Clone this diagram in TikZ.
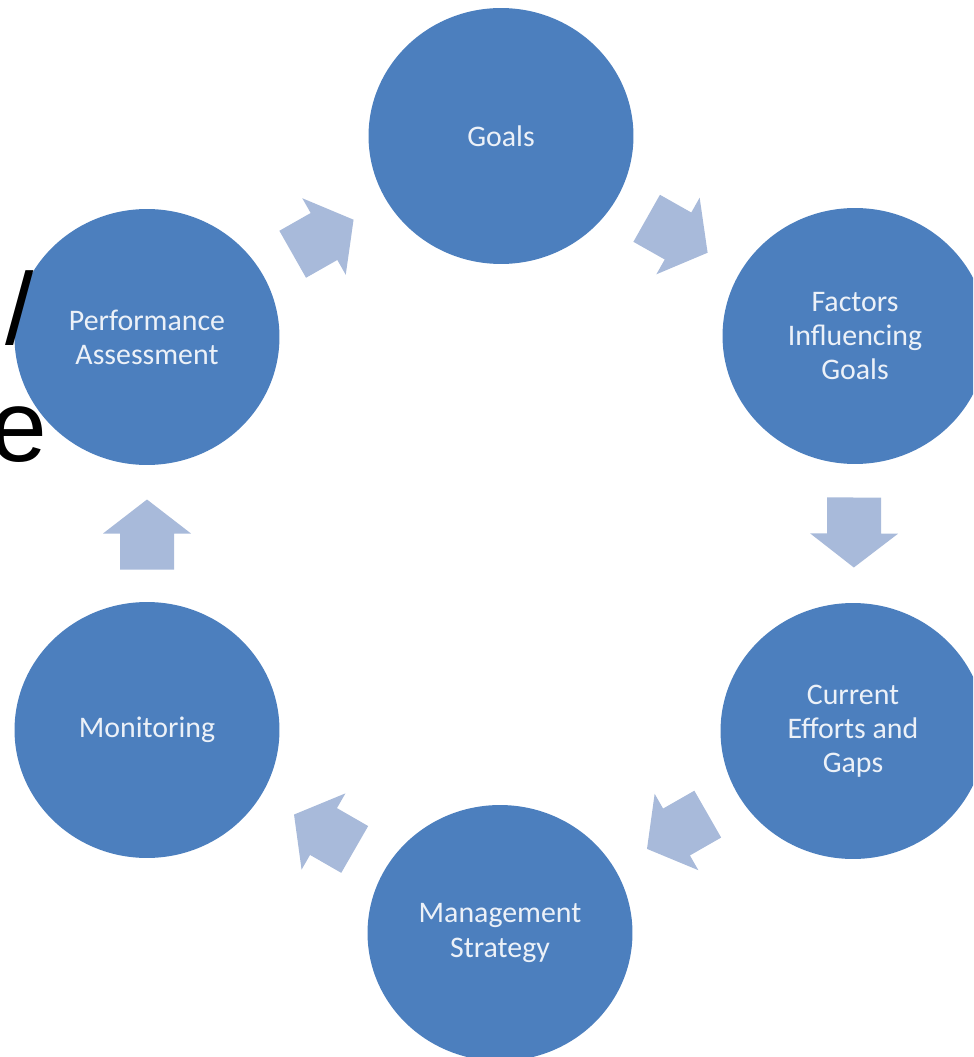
\documentclass[tikz,border=0pt]{standalone}
\usepackage{fontspec}
\usepackage{tikz}
\usetikzlibrary{calc, shapes.geometric}

\newfontfamily\calibfont{Carlito}
\newfontfamily\arialfont{Liberation Sans}
\definecolor{stageblue}{RGB}{76,127,190}
\definecolor{stagetext}{RGB}{236,241,248}
\definecolor{arrowblue}{RGB}{168,186,218}

\begin{document}
\begin{tikzpicture}[x=0.02cm, y=-0.02cm]
    \tikzstyle{stage}=[ellipse, fill=stageblue, text=stagetext, inner sep=0pt, minimum width=5.3cm, minimum height=5.12cm, align=center, font=\calibfont\fontsize{17}{19.5}\selectfont]
    \tikzstyle{stray}=[anchor=base west, inner sep=0pt, font=\arialfont\fontsize{58}{70}\selectfont]
    \tikzset{cyclearrow/.pic={\fill[arrowblue] (-36,-27) -- (0,-27) -- (0,-44) -- (34,0) -- (0,44) -- (0,27) -- (-36,27) -- cycle;}}

    \useasboundingbox (0,0) rectangle (973,1057);
    \clip (0,0) rectangle (973,1057);

    \node[stage] (goals) at (501,136) {Goals};
    \node[stage] (factors) at (855,336) {Factors\\Influencing\\Goals};
    \node[stage] (current) at (853,731) {Current\\Efforts and\\Gaps};
    \node[stage] (mgmt) at (500,933) {Management\\Strategy};
    \node[stage] (monitor) at (147,730) {Monitoring};
    \node[stage] (perf) at (147,337) {Performance\\Assessment};

    % block arrows between the stages
    \foreach \a/\b in {perf/goals, goals/factors, factors/current, current/mgmt, mgmt/monitor, monitor/perf}
        \path let \p1 = ($(\b)-(\a)$), \n1 = {atan2(\y1,\x1)} in ($(\a)!0.5!(\b)$) pic[rotate=\n1] {cyclearrow};

    \node[stray] (slash) at (5,344) {/};
    \node[stray] (letter) at (-10,461) {e};
\end{tikzpicture}
\end{document}
